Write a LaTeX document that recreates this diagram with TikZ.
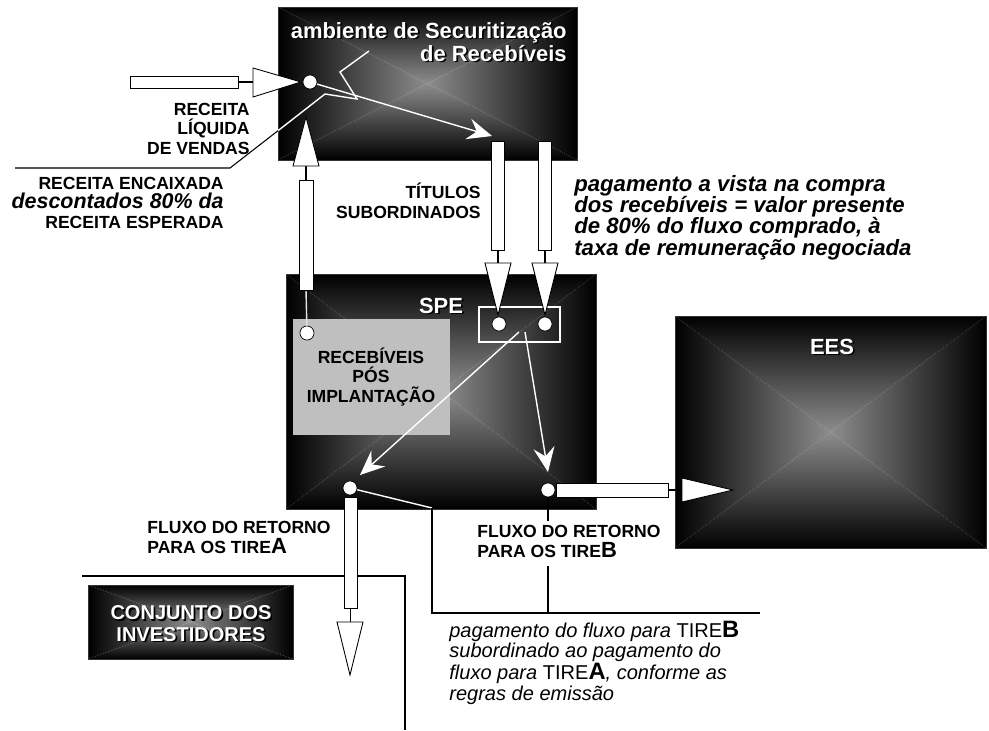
\documentclass[tikz,border=0pt]{standalone}
\usepackage{fontspec}
\setmainfont{Liberation Sans}
\usetikzlibrary{arrows.meta}
\definecolor{midgray}{gray}{0.55}
\definecolor{boxgray}{gray}{0.75}

% dark box, shaded light in the middle and black at the edges
\newcommand\darkbox[4]{%
  \shade[top color=black,bottom color=midgray] (#1,#2) -- (#3,#2) -- ({(#1+#3)/2},{(#2+#4)/2}) -- cycle;
  \shade[top color=midgray,bottom color=black] (#1,#4) -- (#3,#4) -- ({(#1+#3)/2},{(#2+#4)/2}) -- cycle;
  \shade[left color=black,right color=midgray] (#1,#2) -- (#1,#4) -- ({(#1+#3)/2},{(#2+#4)/2}) -- cycle;
  \shade[left color=midgray,right color=black] (#3,#2) -- (#3,#4) -- ({(#1+#3)/2},{(#2+#4)/2}) -- cycle;
  \draw[gray!40!black,line width=0.4pt] (#1,#2) rectangle (#3,#4);
}
% white text with a black shadow
\newcommand\shadowlabel[4]{%
  \node[shtext,black,xshift=1pt,yshift=-1pt,#3] at (#2) {#4};
  \node[shtext,white,#3] (#1) at (#2) {#4};
}

\begin{document}
\begin{tikzpicture}[x=0.02cm,y=-0.02cm,
  lbl/.style={font=\bfseries\fontsize{10}{11}\selectfont,inner sep=0},
  bigit/.style={font=\bfseries\itshape\fontsize{12.6}{12}\selectfont,inner sep=0},
  note/.style={font=\itshape\fontsize{11.4}{11.5}\selectfont,inner sep=0},
  shtext/.style={font=\bfseries\fontsize{12.5}{13}\selectfont,inner sep=0},
  port/.style={circle,draw=black,fill=white,inner sep=0,minimum size=8pt},
  blk/.style={draw=black,fill=white,line width=0.5pt},
  wline/.style={white,line width=0.8pt},
  warrow/.style={wline,-{Stealth[length=14pt,width=12pt,inset=5pt,fill=white]}},
  lead/.style={black,line width=0.6pt}]

\useasboundingbox (0,0) rectangle (989,730);

% the four dark boxes
\darkbox{278}{7}{577}{160}
\darkbox{286}{274}{596}{509}
\darkbox{675}{316}{986}{548}
\darkbox{88}{585}{293}{659}

% receivables after start-up
\fill[boxgray] (293,319) rectangle (450,435);
\node[lbl,align=center,anchor=base] (pos) at (371,402)
  {RECEBÍVEIS\\PÓS\\IMPLANTAÇÃO};

% ports
\node[port] (rec) at (310,82) {};
\node[port] (spa) at (499,324) {};
\node[port] (spb) at (545,324) {};
\node[port] (impl) at (307,333) {};
\node[port] (outa) at (350,488) {};
\node[port] (outb) at (548,490) {};
\draw[white,line width=0.8pt] (479,307) rectangle (560,342);
\coordinate (spc) at (519,332);
\coordinate (spd) at (525,332);
\coordinate (titin) at (492,136);
\coordinate (tipa) at (360,475);
\coordinate (tipb) at (548,472);

% white flows
\draw[warrow] (rec) -- (titin);
\draw[warrow] (spc) -- (tipa);
\draw[warrow] (spd) -- (tipb);
\draw[white!80!gray,line width=0.8pt] (impl) -- (306,290);

% lightning and leader to the cash label
\draw[wline] (369,51) -- (340,72) -- (357,99) -- (325,94) -- (278,130.7);
\draw[lead] (278,130.7) -- (230,168) -- (15,168);

% leader from tire A to the note
\draw[wline] (outa) -- (432,508);
\draw[lead] (432,508) -- (432,613) -- (760,613);
\draw[lead] (82,576) -- (405,576) -- (405,730);

% block arrows
\draw[blk] (130,76) rectangle (238,88);
\draw[lead] (238,82) -- (253,82);
\draw[blk] (253,68) -- (253,97) -- (301,82) -- cycle;

\draw[blk] (299,180) rectangle (313,290);
\draw[lead] (306,180) -- (306,166);
\draw[blk] (293,166) -- (319,166) -- (306,117) -- cycle;

\foreach \x in {498,545} {
  \draw[blk] (\x-6.5,141) rectangle (\x+6.5,250);
  \draw[lead] (\x,250) -- (\x,263);
  \draw[blk] (\x-13,263) -- (\x+13,263) -- (\x,315) -- cycle;
}

\draw[blk] (344,497) rectangle (357,608);
\draw[lead] (350.5,608) -- (350.5,622);
\draw[blk] (337,622) -- (363,622) -- (350,675) -- cycle;

\draw[blk] (556,483) rectangle (668,497);
\draw[lead] (668,490) -- (682,490);
\draw[blk] (682,478) -- (682,502) -- (733,490) -- cycle;

% labels
\node[lbl,align=right,anchor=base east] (liq) at (250,154)
  {RECEITA\\LÍQUIDA\\DE VENDAS};
\node[lbl,align=right,anchor=base east] (enc) at (224,228)
  {RECEITA ENCAIXADA\\{\itshape\fontsize{12.2}{11}\selectfont descontados 80\% da}\\RECEITA ESPERADA};
\node[lbl,align=right,anchor=base east] (tit) at (481,218)
  {TÍTULOS\\SUBORDINADOS};
\node[bigit,align=left,anchor=base west] (pag) at (574,255)
  {pagamento a vista na compra\\dos recebíveis = valor presente\\de 80\% do fluxo comprado, à\\taxa de remuneração negociada};
\node[lbl,align=left,anchor=base west] (fluxa) at (147,553)
  {FLUXO DO RETORNO\\PARA OS TIRE{\fontsize{12.5}{11}\selectfont A}};
\node[lbl,align=left,anchor=base west] (fluxb) at (477,557)
  {FLUXO DO RETORNO\\PARA OS TIRE{\fontsize{12.5}{11}\selectfont B}};
\node[note,align=left,anchor=base west] (regra) at (449,700)
  {pagamento do fluxo para {\upshape TIRE\textbf{\fontsize{13.5}{11}\selectfont B}}\\subordinado ao pagamento do\\fluxo para {\upshape TIRE\textbf{\fontsize{13.5}{11}\selectfont A}}, conforme as\\regras de emissão};

\draw[lead] (outb) -- (548,521);
\draw[lead] (548,566) -- (548,613);

% titles on the dark boxes
\shadowlabel{amb}{567,61}{anchor=base east,align=right}{ambiente de Securitização\\de Recebíveis}
\shadowlabel{spe}{441,313}{anchor=base}{SPE}
\shadowlabel{ees}{832,354}{anchor=base}{EES}
\shadowlabel{inv}{191,641}{anchor=base,align=center,font=\bfseries\fontsize{11.4}{12}\selectfont}{CONJUNTO DOS\\INVESTIDORES}

\end{tikzpicture}
\end{document}
